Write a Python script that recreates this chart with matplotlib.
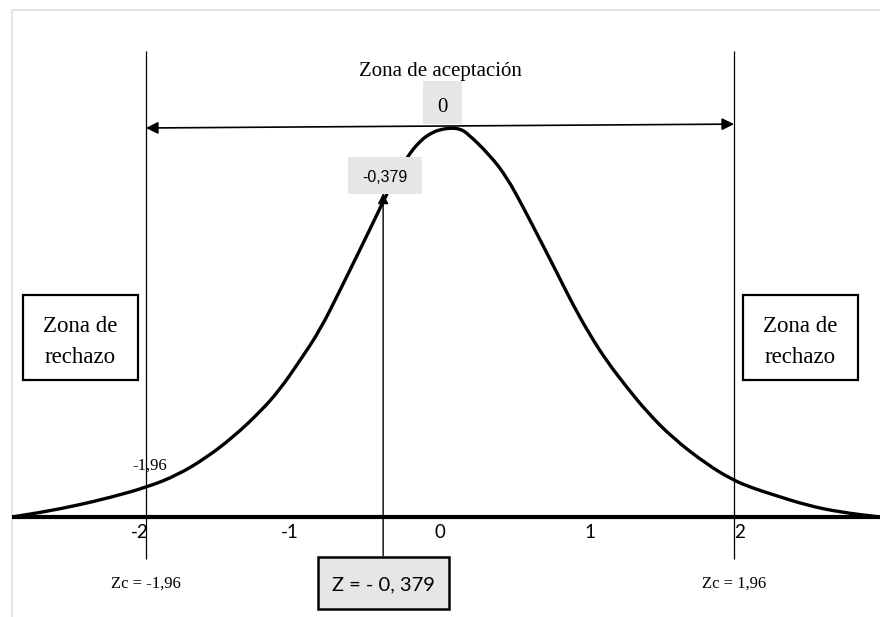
import matplotlib.pyplot as plt
from matplotlib.patches import Rectangle, PathPatch
from matplotlib.path import Path

# curve (z, height)
curve_z = [-2.853, -2.647, -2.420, -2.200, -1.947, -1.753, -1.567, -1.380, -1.200, -1.067,
           -0.933, -0.800, -0.667, -0.533, -0.420, -0.380, -0.300, -0.220, -0.133, -0.047,
           0.020, 0.080, 0.133, 0.180, 0.333, 0.447, 0.553, 0.667, 0.780, 0.887,
           1.000, 1.113, 1.247, 1.380, 1.553, 1.780, 1.953, 2.080, 2.220, 2.447, 2.667, 2.933]
curve_h = [0.000, 0.005, 0.012, 0.020, 0.031, 0.043, 0.060, 0.082, 0.108, 0.131,
           0.161, 0.192, 0.233, 0.275, 0.311, 0.324, 0.349, 0.370, 0.387, 0.396,
           0.399, 0.400, 0.399, 0.395, 0.372, 0.349, 0.319, 0.285, 0.251, 0.218,
           0.187, 0.160, 0.133, 0.108, 0.081, 0.054, 0.038, 0.030, 0.023, 0.012, 0.005, 0.000]

tick_pos = [-2, -1, 0, 1, 2]
tick_labels = ['-2', '-1', '0', '1', '2']

z_crit = 1.96
z_calc = -0.379
z_mean = 0

serif = ['Liberation Serif', 'DejaVu Serif']
sans = ['Lato', 'DejaVu Sans']
narrow = ['Liberation Sans Narrow', 'Liberation Sans', 'DejaVu Sans']

fig = plt.figure(figsize=(8.8, 6.17), dpi=100)
ax = fig.add_axes([0, 0, 1, 1])
ax.set_xlim(-2.933, 2.933)
ax.set_ylim(-0.1028, 0.5316)
ax.axis('off')

# light frame at top and left
ax.plot([-2.853, -2.853, 2.95], [-0.11, 0.5213, 0.5213], color='#e2e2e2', lw=1.3, clip_on=False)

# horizontal axis
ax.plot([-2.853, 2.933], [0, 0], color='black', lw=3, solid_capstyle='butt', zorder=2)
for p, lab in zip(tick_pos, tick_labels):
    ax.text(p, -0.0216, lab, ha='center', va='baseline', fontsize=13.5, family=sans)

# normal curve, drawn as a smooth path through the read points
pts = list(zip(curve_z, curve_h))
verts = [pts[0]]
codes = [Path.MOVETO]
for i in range(1, len(pts) - 1):
    mid = ((pts[i][0] + pts[i + 1][0]) / 2, (pts[i][1] + pts[i + 1][1]) / 2)
    verts += [pts[i], mid]
    codes += [Path.CURVE3, Path.CURVE3]
verts.append(pts[-1])
codes.append(Path.LINETO)
ax.add_patch(PathPatch(Path(verts, codes), facecolor='none', edgecolor='black',
                       lw=2.4, joinstyle='round', zorder=2))

# critical values
ax.vlines([-z_crit, z_crit], -0.043, 0.479, color='black', lw=0.9, zorder=2)
ax.text(-z_crit, -0.073, 'Zc = -1,96', ha='center', va='baseline', fontsize=12, family=serif)
ax.text(z_crit, -0.073, 'Zc = 1,96', ha='center', va='baseline', fontsize=12, family=serif)
ax.text(-1.937, 0.049, '-1,96', ha='center', va='baseline', fontsize=12, family=serif)

# acceptance zone arrow
ax.annotate('', xy=(z_crit, 0.404), xytext=(-z_crit, 0.400),
            arrowprops=dict(arrowstyle='<|-|>', color='black', lw=1.2,
                            mutation_scale=18, shrinkA=0, shrinkB=0), zorder=3)
ax.text(0, 0.4535, 'Zona de aceptación', ha='center', va='baseline', fontsize=15, family=serif)

# "0" label box
ax.add_patch(Rectangle((-0.113, 0.4041), 0.26, 0.0442, facecolor='#e6e6e6', edgecolor='none', zorder=3))
ax.text(0.017, 0.4165, str(z_mean), ha='center', va='baseline', fontsize=15, family=serif, zorder=4)

# calculated Z arrow and labels
ax.annotate('', xy=(z_calc, 0.333), xytext=(z_calc, -0.040),
            arrowprops=dict(arrowstyle='-|>', color='black', lw=1,
                            mutation_scale=16, shrinkA=0, shrinkB=0), zorder=3)
ax.add_patch(Rectangle((-0.613, 0.3321), 0.493, 0.0381, facecolor='#e6e6e6', edgecolor='none', zorder=3))
ax.text(-0.37, 0.3445, '-0,379', ha='center', va='baseline', fontsize=11.5, family=narrow, zorder=4)

ax.add_patch(Rectangle((-0.813, -0.0945), 0.873, 0.0535, facecolor='#e6e6e6',
                       edgecolor='black', lw=1.8, zorder=3))
ax.text(-0.38, -0.075, 'Z = - 0, 379', ha='center', va='baseline', fontsize=14.5, family=sans, zorder=4)

# rejection zone boxes
for x0, xc in [(-2.78, -2.40), (2.02, 2.40)]:
    ax.add_patch(Rectangle((x0, 0.1409), 0.767, 0.0874, facecolor='white',
                           edgecolor='black', lw=1.6, zorder=3))
    ax.text(xc, 0.190, 'Zona de', ha='center', va='baseline', fontsize=16.5, family=serif, zorder=4)
    ax.text(xc, 0.158, 'rechazo', ha='center', va='baseline', fontsize=16.5, family=serif, zorder=4)

fig.savefig('out.png', dpi=100)
